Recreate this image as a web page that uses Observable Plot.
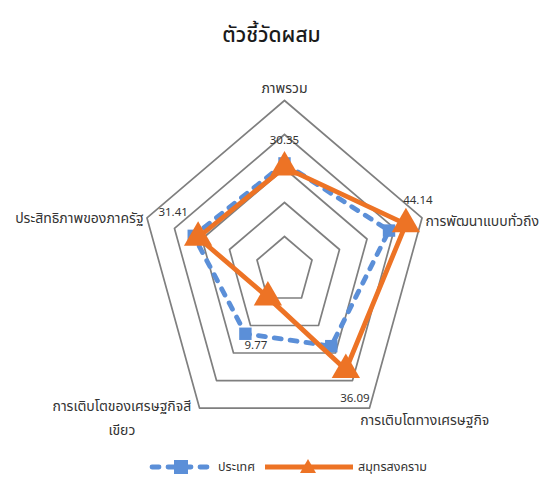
<!DOCTYPE html>
<html>
<head>
<meta charset="utf-8">
<script src="https://cdn.jsdelivr.net/npm/d3@7"></script>
<script src="https://cdn.jsdelivr.net/npm/@observablehq/plot@0.6"></script>
<style>
  body { margin: 0; background: #fff; font-family: "Noto Sans Thai", "Noto Sans", "DejaVu Sans", sans-serif; }
  #title { width: 543px; height: 60px; line-height: 72px; text-align: center; font-size: 21px; color: #1a1a1a; font-weight: 500; }
  #legend { width: 543px; height: 34px; position: relative; font-size: 12.5px; color: #333; }
  .item { position: absolute; top: 8px; height: 18px; display: flex; align-items: center; }
  .item svg { margin-right: 4px; }
</style>
</head>
<body>
<div id="title">ตัวชี้วัดผสม</div>
<div id="chart"></div>
<div id="legend"></div>
<script>
// categories (clockwise from top)
const categories = ["ภาพรวม", "การพัฒนาแบบทั่วถึง", "การเติบโตทางเศรษฐกิจ", "การเติบโตของเศรษฐกิจสีเขียว", "ประสิทธิภาพของภาครัฐ"];
const categoryLines = ["ภาพรวม", "การพัฒนาแบบทั่วถึง", "การเติบโตทางเศรษฐกิจ", "การเติบโตของเศรษฐกิจสี\nเขียว", "ประสิทธิภาพของภาครัฐ"];
const seriesNames = ["ประเทศ", "สมุทรสงคราม"];
const countryValues = [31.5, 38.0, 27.5, 23.0, 33.0];
const provinceValues = [30.35, 44.14, 36.09, 9.77, 31.41];
const ringValues = [10, 20, 30, 40, 50];
const maxValue = 50;
// label placement styles
const catAnchor = ["middle", "start", "start", "middle", "end"];
const catDx = [0, -9, -17, -70, 9];
const catDy = [0, 5, -3, -5, 2];
const valDx = [0, 12, 9, -12, -25];
const valDy = [-27, -24, 29, 48, -25];

const colors = { "ประเทศ": "#5b8fd8", "สมุทรสงคราม": "#ed7325" };

const n = categories.length;
const angle = i => Math.PI / 2 - i * 2 * Math.PI / n;
const pt = (i, v) => [ (v / maxValue) * Math.cos(angle(i)), (v / maxValue) * Math.sin(angle(i)) ];

const rings = [];
ringValues.forEach(rv => {
  for (let i = 0; i <= n; i++) {
    const [x, y] = pt(i % n, rv);
    rings.push({ ring: rv, x, y });
  }
});

function seriesRows(name, values, closed) {
  const rows = [];
  const m = closed ? n + 1 : n;
  for (let k = 0; k < m; k++) {
    const i = k % n;
    const [x, y] = pt(i, values[i]);
    rows.push({ series: name, i, x, y, value: values[i] });
  }
  return rows;
}
const countryLine = seriesRows(seriesNames[0], countryValues, true);
const provinceLine = seriesRows(seriesNames[1], provinceValues, true);
const countryPts = seriesRows(seriesNames[0], countryValues, false);
const provincePts = seriesRows(seriesNames[1], provinceValues, false);

const catRows = categories.map((c, i) => {
  const [x, y] = pt(i, maxValue * 1.09);
  return { c, text: categoryLines[i], x, y, i };
});

const cx = 284, cy = 210, rx = 144.6, ry = 170;

const chart = Plot.plot({
  width: 543,
  height: 390,
  margin: 0,
  x: { domain: [-1, 1], range: [cx - rx, cx + rx], axis: null },
  y: { domain: [-1, 1], range: [cy + ry, cy - ry], axis: null },
  style: { fontFamily: "\"Noto Sans Thai\", \"Noto Sans\", \"DejaVu Sans\", sans-serif", background: "#fff" },
  marks: [
    Plot.line(rings, { x: "x", y: "y", z: "ring", stroke: "#7f7f7f", strokeWidth: 1.7 }),
    Plot.line(countryLine, { x: "x", y: "y", stroke: colors["ประเทศ"], strokeWidth: 4.8, strokeDasharray: "7,9", strokeLinecap: "round", strokeLinejoin: "round" }),
    Plot.dot(countryPts, { x: "x", y: "y", symbol: "square", r: 7, fill: colors["ประเทศ"], stroke: "none" }),
    Plot.line(provinceLine, { x: "x", y: "y", stroke: colors["สมุทรสงคราม"], strokeWidth: 4.8, strokeLinejoin: "miter" }),
    Plot.dot(provincePts, { x: "x", y: "y", symbol: "triangle", r: 10.5, fill: colors["สมุทรสงคราม"], stroke: "none" }),
    ...provincePts.map(d => Plot.text([d], { x: "x", y: "y", text: d => d.value.toFixed(2), dx: valDx[d.i], dy: valDy[d.i], fontSize: 11.5, fill: "#333" })),
    ...catRows.map(d => Plot.text([d], { x: "x", y: "y", text: "text", textAnchor: catAnchor[d.i], dx: catDx[d.i], dy: catDy[d.i], fontSize: 14, fill: "#333", lineHeight: 1.75 }))
  ]
});
document.getElementById("chart").appendChild(chart);

// legend
const legend = document.getElementById("legend");
legend.innerHTML = `
  <div class="item" style="left:148px">
    <svg width="66" height="18"><line x1="4" y1="9" x2="62" y2="9" stroke="${colors["ประเทศ"]}" stroke-width="4.8" stroke-dasharray="7,9" stroke-linecap="round"/><rect x="26" y="2" width="14" height="14" fill="${colors["ประเทศ"]}"/></svg>
    <span>${seriesNames[0]}</span>
  </div>
  <div class="item" style="left:264px">
    <svg width="90" height="18"><line x1="1" y1="9" x2="89" y2="9" stroke="${colors["สมุทรสงคราม"]}" stroke-width="4.8"/><path d="M44,1 L52,15 L36,15 Z" fill="${colors["สมุทรสงคราม"]}"/></svg>
    <span>${seriesNames[1]}</span>
  </div>`;
</script>
</body>
</html>
